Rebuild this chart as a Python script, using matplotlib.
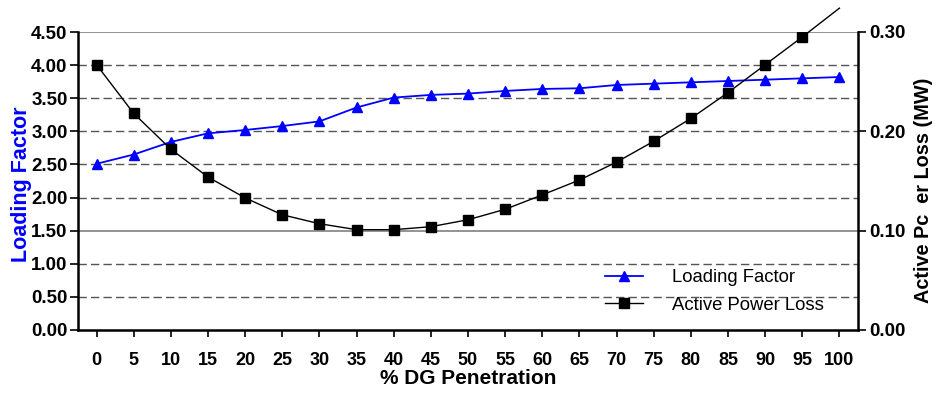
import matplotlib
matplotlib.use("Agg")
import matplotlib.pyplot as plt
from matplotlib.lines import Line2D

penetration = [0, 5, 10, 15, 20, 25, 30, 35, 40, 45, 50, 55, 60, 65, 70, 75, 80, 85, 90, 95, 100]
loading_factor = [2.51, 2.65, 2.84, 2.97, 3.02, 3.08, 3.15, 3.36, 3.51, 3.55, 3.57,
                  3.61, 3.64, 3.65, 3.70, 3.72, 3.74, 3.76, 3.78, 3.80, 3.82]
power_loss = [0.267, 0.218, 0.182, 0.154, 0.133, 0.116, 0.107, 0.101, 0.101, 0.104, 0.111,
              0.1215, 0.136, 0.151, 0.169, 0.190, 0.213, 0.239, 0.267, 0.295, 0.324]
left_ticks = [0.0, 0.5, 1.0, 1.5, 2.0, 2.5, 3.0, 3.5, 4.0, 4.5]
right_ticks = [0.0, 0.1, 0.2, 0.3]

plt.rcParams['font.family'] = ['Liberation Sans', 'DejaVu Sans']

fig = plt.figure(figsize=(9.35, 3.95), dpi=100)
ax = fig.add_axes([78/935, 1-330/395, (858-78)/935, (330-32)/395])
ax2 = ax.twinx()

x = list(range(len(penetration)))

# gridlines
for t in left_ticks[1:-1]:
    if abs(t - 1.5) < 1e-9:
        ax.axhline(t, color='#808080', lw=1.2, ls='-', zorder=0)
    else:
        ax.axhline(t, color='#555555', lw=1.0, ls=(0, (6, 3)), zorder=0)
ax.axhline(4.5, color='#808080', lw=1.2, zorder=0)

ax.plot(x, loading_factor, color='#0000ff', lw=1.3, marker='^', ms=7.5,
        markerfacecolor='#0000ff', markeredgecolor='#0000ff', zorder=3)
ax.set_ylim(0, 4.5)
ax.set_xlim(-0.5, len(x) - 0.5)
ax.set_yticks(left_ticks)
ax.set_yticklabels([f"{t:.2f}" for t in left_ticks])
ax.set_xticks(x)
ax.set_xticklabels([str(p) for p in penetration])

ax2.plot(x, power_loss, color='black', lw=1.0, clip_on=False, zorder=3)
ax2.plot(x, power_loss, color='black', lw=0, marker='s', ms=6.5, zorder=4)
ax2.set_ylim(0, 0.30)
ax2.set_yticks(right_ticks)
ax2.set_yticklabels([f"{t:.2f}" for t in right_ticks])

for a in (ax, ax2):
    a.spines['top'].set_visible(False)
    for s in ('left', 'right', 'bottom'):
        a.spines[s].set_linewidth(1.8)
        a.spines[s].set_color('black')
ax.spines['right'].set_visible(False)
ax2.spines['left'].set_visible(False)
ax2.spines['bottom'].set_visible(False)

ax.tick_params(axis='y', direction='out', length=6, width=1.2, colors='black', labelsize=13.5, pad=1.5)
ax.tick_params(axis='x', direction='out', length=5, width=1.2, colors='black', labelsize=13, pad=11)
ax2.tick_params(axis='y', direction='out', length=6, width=1.2, labelsize=13.5, pad=2)
for lab in ax.get_xticklabels() + ax.get_yticklabels() + ax2.get_yticklabels():
    lab.set_fontweight('bold')

ax.set_xlabel('% DG Penetration', fontsize=15, fontweight='bold', labelpad=0)
ax.set_ylabel('Loading Factor', fontsize=15.5, fontweight='bold', color='#0000ff')
ax.yaxis.set_label_coords(-0.059, 0.49)
ax2.set_ylabel('Active Pc  er Loss (MW)', fontsize=14.3, fontweight='bold', color='black')
ax2.yaxis.set_label_coords(1.072, 0.468)

handles = [Line2D([], [], color='#0000ff', lw=1.3, marker='^', ms=7.5),
           Line2D([], [], color='black', lw=1.0, marker='s', ms=6.5)]
fig.legend(handles, ['Loading Factor', 'Active Power Loss'], loc='upper left',
           bbox_to_anchor=(605/935, 1-269/395), frameon=False, fontsize=13.3,
           handlelength=2.05, handletextpad=1.55, labelspacing=0.57,
           borderpad=0, borderaxespad=0)

fig.savefig('out.png', dpi=100)
